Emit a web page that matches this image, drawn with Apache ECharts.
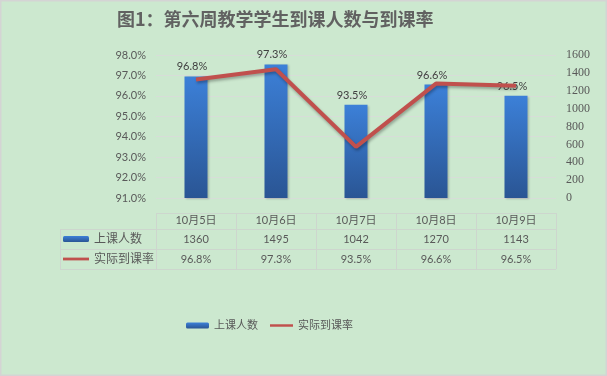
<!DOCTYPE html>
<html><head><meta charset="utf-8">
<script src="https://cdn.jsdelivr.net/npm/echarts@6/dist/echarts.min.js"></script>
<style>html,body{margin:0;padding:0;background:#cce8cf}#c{width:607px;height:376px}</style>
</head><body><div id="c"></div>
<script>
const categories = ['10月5日','10月6日','10月7日','10月8日','10月9日'];
const attendance = [1360, 1495, 1042, 1270, 1143];
const rate = [96.8, 97.3, 93.5, 96.6, 96.5];
const rateAxis = {min: 91, max: 98, interval: 1};
const countAxis = {min: 0, max: 1600, interval: 200};
const seriesNames = ['上课人数', '实际到课率'];
const titleText = '图1：第六周教学学生到课人数与到课率';

const FONT = 'Lato, "Noto Sans CJK SC", sans-serif';
const TXT = '#595959';
const pct = v => Number(v).toFixed(1) + '%';
const LINE_ICON = 'path://M0,0H28V3H0Z';
const legendItems = () => [
  {name: seriesNames[0]},
  {name: seriesNames[1], icon: LINE_ICON, itemStyle: {color: '#c0504d'}}
];

const chart = echarts.init(document.getElementById('c'));
const option = {
  backgroundColor: '#cce8cf',
  animation: false,
  textStyle: {fontFamily: FONT},
  title: {
    text: titleText, left: 112, top: 5,
    textStyle: {fontSize: 18, fontWeight: 'bold', color: '#616161', fontFamily: '"Noto Sans CJK SC", sans-serif'}
  },
  legend: [
    {
      data: legendItems(),
      left: 186, top: 320, padding: 0, itemGap: 12,
      itemWidth: 23, itemHeight: 6,
      textStyle: {fontSize: 11, color: TXT, fontFamily: FONT},
      selectedMode: false
    },
    {
      data: legendItems(),
      orient: 'vertical', left: 63, top: 229, padding: 0, itemGap: 0,
      itemWidth: 26, itemHeight: 6,
      textStyle: {fontSize: 12, color: TXT, lineHeight: 20, fontFamily: FONT},
      selectedMode: false
    }
  ],
  grid: {left: 156, right: 51, top: 55, height: 143, containLabel: false},
  xAxis: {
    type: 'category', data: categories,
    axisLine: {show: false}, axisTick: {show: false},
    axisLabel: {
      margin: 14, interval: 0,
      formatter: (v, i) => '{h|' + v + '}\n{v|' + attendance[i] + '}\n{v|' + pct(rate[i]) + '}',
      rich: {
        h: {fontSize: 11, color: TXT, lineHeight: 17, fontFamily: FONT},
        v: {fontSize: 11, color: TXT, lineHeight: 20, fontFamily: FONT}
      }
    }
  },
  yAxis: [
    {
      type: 'value', min: rateAxis.min, max: rateAxis.max, interval: rateAxis.interval,
      axisLine: {show: false}, axisTick: {show: false},
      axisLabel: {formatter: v => pct(v), color: TXT, fontSize: 11, margin: 10, fontFamily: FONT},
      splitLine: {lineStyle: {color: '#d7ddd8', width: 1}}
    },
    {
      type: 'value', min: countAxis.min, max: countAxis.max, interval: countAxis.interval,
      position: 'right',
      axisLine: {show: false}, axisTick: {show: false},
      axisLabel: {formatter: v => String(v), color: TXT, fontSize: 12, margin: 10, fontFamily: '"Liberation Serif", serif'},
      splitLine: {show: false}
    }
  ],
  series: [
    {
      name: seriesNames[0], type: 'bar', yAxisIndex: 1, data: attendance,
      barWidth: 23,
      itemStyle: {
        color: new echarts.graphic.LinearGradient(0, 0, 0, 1, [
          {offset: 0, color: '#3c80d8'}, {offset: 1, color: '#2a5594'}
        ]),
        shadowColor: 'rgba(0,0,0,0.2)', shadowBlur: 2, shadowOffsetX: 1, shadowOffsetY: 1
      },
      label: {
        show: true, position: 'top', distance: 4, offset: [-4, 0],
        formatter: p => pct(rate[p.dataIndex]),
        color: '#404040', fontSize: 11, fontFamily: FONT
      }
    },
    {
      name: seriesNames[1], type: 'line', yAxisIndex: 0, data: rate,
      symbol: 'none', z: 3,
      lineStyle: {color: '#c0504d', width: 4, shadowColor: 'rgba(0,0,0,0.3)', shadowBlur: 3, shadowOffsetX: 1, shadowOffsetY: 2},
      itemStyle: {color: '#c0504d'}
    }
  ]
};
chart.setOption(option);

// table lines derived from the category axis layout
const c0 = chart.convertToPixel({xAxisIndex: 0}, 0);
const c1 = chart.convertToPixel({xAxisIndex: 0}, 1);
const band = c1 - c0;
const tLeft = c0 - band / 2;
const tRight = tLeft + band * categories.length;
const rowY = [213, 229, 249, 269];
const legendLeft = 60;
const lineStyle = {stroke: '#cdd6ce', lineWidth: 1};
const els = [];
const r = v => Math.round(v) + 0.5;
els.push({type: 'line', shape: {x1: tLeft, y1: r(rowY[0]), x2: tRight, y2: r(rowY[0])}, style: lineStyle, silent: true});
for (let k = 1; k < rowY.length; k++) {
  els.push({type: 'line', shape: {x1: legendLeft, y1: r(rowY[k]), x2: tRight, y2: r(rowY[k])}, style: lineStyle, silent: true});
}
els.push({type: 'line', shape: {x1: r(legendLeft), y1: rowY[1], x2: r(legendLeft), y2: rowY[3]}, style: lineStyle, silent: true});
for (let i = 0; i <= categories.length; i++) {
  const x = r(tLeft + i * band);
  els.push({type: 'line', shape: {x1: x, y1: rowY[0], x2: x, y2: rowY[3]}, style: lineStyle, silent: true});
}
els.push({type: 'rect', shape: {x: 0.5, y: 0.5, width: 606, height: 375}, style: {fill: 'none', stroke: '#d4d4d4', lineWidth: 2}, silent: true});
chart.setOption({graphic: {elements: els}});
</script></body></html>
